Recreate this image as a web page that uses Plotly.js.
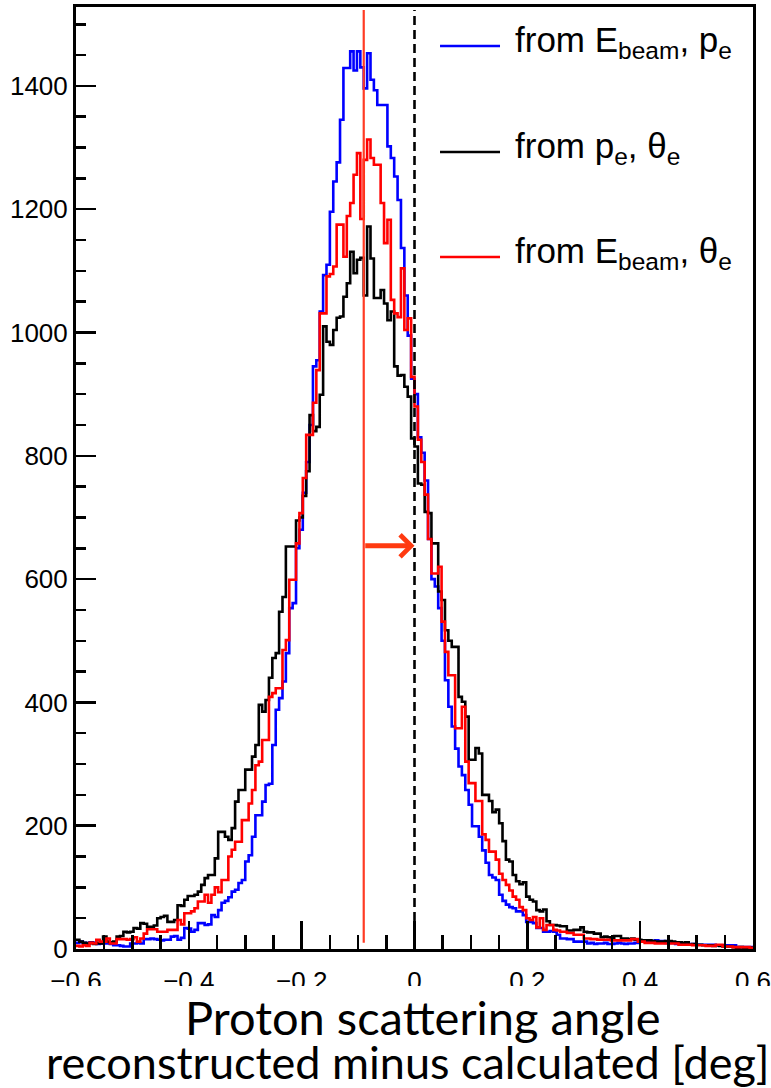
<!DOCTYPE html>
<html><head><meta charset="utf-8">
<script src="https://cdn.plot.ly/plotly-3.0.1.min.js"></script>
<style>html,body{margin:0;padding:0;background:#fff}#chart{width:771px;height:1088px}</style>
</head><body><div id="chart"></div><script>
// histogram binning: 200 bins from -0.6 to 0.6
const BIN_START = -0.6, BIN_WIDTH = 0.006, N_BINS = 200;

// from E_beam, p_e (blue)
const countsEbeamPe = [
10,12,10,9,11,10,8,9,9,9, 8,6,6,5,4,4,9,9,10,9,
16,16,17,16,15,14,15,15,20,21, 15,18,34,33,28,31,42,42,39,40,
55,52,63,75,78,84,93,96,107,112, 142,152,182,217,217,239,266,268,331,388,
407,434,480,553,561,650,680,740,790,850, 945,955,1034,1093,1110,1196,1245,1276,1345,1429,
1429,1456,1425,1456,1430,1396,1453,1410,1393,1369, 1369,1369,1302,1283,1253,1215,1137,1060,995,925,
900,830,805,760,665,600,588,553,500,436, 393,361,325,296,282,258,234,199,199,182,
160,140,120,116,112,88,78,72,68,66, 61,61,55,44,44,42,34,34,28,28,
29,28,23,17,17,16,16,12,12,12, 12,9,10,8,9,9,10,8,8,9,
10,9,8,9,9,10,13,13,12,13, 13,14,13,13,10,10,10,8,8,8,
8,8,8,7,7,7,7,7,7,6, 6,6,6,6,6,3,3,3,3,3
];

// from p_e, theta_e (black)
const countsPeThetae = [
15,12,10,9,10,8,10,9,20,12, 11,12,20,21,28,27,28,34,33,42,
41,36,36,38,50,52,54,44,44,47, 71,70,80,86,86,88,93,104,115,120,
120,147,190,190,182,177,196,239,258,258, 291,291,312,331,396,385,404,440,472,480,
547,571,653,653,653,695,700,735,775,866, 840,847,899,1010,985,980,1004,1024,1026,1058,
1080,1131,1096,1118,1121,1060,1172,1120,1056,1056, 1069,1047,1020,1034,945,930,931,912,896,828,
815,755,753,709,707,658,658,580,566,517, 500,490,490,409,401,377,307,307,326,317,
250,250,240,222,226,204,175,145,142,120, 110,105,108,85,80,77,63,61,64,45,
39,39,38,37,37,30,30,31,31,35, 28,27,27,25,25,19,20,19,18,21,
21,17,17,16,17,15,15,14,14,14, 13,12,12,12,13,13,12,11,11,10,
11,7,8,7,7,6,6,6,5,6, 5,4,4,4,3,2,3,2,2,2
];

// from E_beam, theta_e (red)
const countsEbeamThetae = [
5,4,6,5,10,9,15,12,12,17, 9,9,16,16,16,15,16,19,12,17,
25,32,32,32,28,28,28,31,31,31, 47,40,58,58,61,66,77,77,88,75,
88,100,92,112,112,150,161,174,174,209, 209,236,258,298,304,339,339,409,415,423,
423,485,501,599,599,658,707,764,834,834, 886,939,1031,1031,1091,1095,1107,1175,1175,1123,
1189,1210,1256,1291,1184,1280,1313,1283,1272,1272, 1210,1145,1183,1053,1031,1025,1104,1004,1023,928,
880,826,790,737,665,609,609,620,531,482, 444,444,358,358,393,304,269,269,240,240,
186,177,158,158,145,122,112,104,95,85, 80,68,63,50,47,52,35,50,31,39,
39,31,30,28,28,26,26,23,23,23, 17,17,16,16,15,15,15,15,14,14,
14,14,14,14,16,16,12,12,10,10, 10,9,9,9,9,9,9,9,7,7,
7,7,6,6,6,6,5,5,5,7, 7,4,4,4,3,3,3,3,3,2
];

const seriesNames = ['from E<sub>beam</sub>, p<sub>e</sub>', 'from p<sub>e</sub>, θ<sub>e</sub>', 'from E<sub>beam</sub>, θ<sub>e</sub>'];
const seriesColors = ['#0000ff', '#000000', '#ff0000'];
const xTickVals = [-0.6, -0.4, -0.2, 0, 0.2, 0.4, 0.6];
const xTickText = ['\u22120.6', '\u22120.4', '\u22120.2', '0', '0.2', '0.4', '0.6'];
const yTickVals = [0, 200, 400, 600, 800, 1000, 1200, 1400];
const yTickText = ['0', '200', '400', '600', '800', '1000', '1200', '1400'];
const meanShift = -0.09;   // red vertical line
const arrowLevel = 654;    // y of the red arrow
const titleLines = ['Proton scattering angle', 'reconstructed minus calculated [deg]'];

const edges = [];
for (let i = 0; i <= N_BINS; i++) edges.push(Math.round((BIN_START + i * BIN_WIDTH) * 1e6) / 1e6);

function stepTrace(counts, name, color) {
  return {
    type: 'scatter', mode: 'lines', name: name,
    x: edges, y: counts.concat([counts[counts.length - 1]]),
    line: {shape: 'hv', color: color, width: 2.6},
    showlegend: false, hoverinfo: 'skip'
  };
}

const traces = [
  stepTrace(countsEbeamPe, seriesNames[0], seriesColors[0]),
  stepTrace(countsPeThetae, seriesNames[1], seriesColors[1]),
  stepTrace(countsEbeamThetae, seriesNames[2], seriesColors[2])
];

const tickFont = {family: 'Liberation Sans, Arial, sans-serif', size: 26, color: '#000'};
const legendRows = [0.9586, 0.8461, 0.7346];

const shapes = [
  {type: 'line', xref: 'x', yref: 'y', x0: meanShift, x1: meanShift, y0: 10, y1: 1523,
   line: {color: '#ff3b24', width: 2.2}},
  {type: 'line', xref: 'x', yref: 'y', x0: 0, x1: 0, y0: 0, y1: 1523,
   line: {color: '#000', width: 2.6, dash: '9px,5px'}},
  {type: 'rect', xref: 'paper', yref: 'paper', x0: -0.12, x1: 1.03, y0: -0.1476, y1: -0.0393,
   fillcolor: '#fff', line: {width: 0}, layer: 'above'}
];
legendRows.forEach((yy, k) => shapes.push({
  type: 'line', xref: 'paper', yref: 'paper', x0: 0.5377, x1: 0.6263, y0: yy, y1: yy,
  line: {color: seriesColors[k], width: 2.5}
}));

const annotations = [];
legendRows.forEach((yy, k) => annotations.push({
  xref: 'paper', yref: 'paper', x: 0.6455, y: yy + 0.004, xanchor: 'left', yanchor: 'middle',
  text: seriesNames[k], showarrow: false,
  font: {family: 'Liberation Sans, Arial, sans-serif', size: 35, color: '#000'}
}));
annotations.push({
  xref: 'x', yref: 'y', x: 0, y: arrowLevel, axref: 'x', ayref: 'y', ax: meanShift, ay: arrowLevel,
  text: '', showarrow: true, arrowhead: 4, arrowsize: 0.85, arrowwidth: 5, arrowcolor: '#ff3a10',
  standoff: 0, startstandoff: 0
});
annotations.push({
  xref: 'paper', yref: 'paper', x: 0.5111, y: -0.0725, xanchor: 'center', yanchor: 'middle',
  text: titleLines[0], showarrow: false,
  font: {family: 'Lato, sans-serif', size: 47, color: '#000'}
});
annotations.push({
  xref: 'paper', yref: 'paper', x: 0.4904, y: -0.1195, xanchor: 'center', yanchor: 'middle',
  text: titleLines[1], showarrow: false,
  font: {family: 'Lato, sans-serif', size: 45, color: '#000'}
});

const layout = {
  width: 771, height: 1088,
  margin: {l: 76, r: 18, t: 7, b: 139},
  paper_bgcolor: '#fff', plot_bgcolor: '#fff',
  showlegend: false,
  xaxis: {
    range: [-0.6, 0.6], tickmode: 'array', tickvals: xTickVals, ticktext: xTickText,
    ticks: 'inside', ticklen: 28, tickwidth: 2.5, tickcolor: '#000',
    showline: true, mirror: true, linewidth: 3, linecolor: '#000',
    showgrid: false, zeroline: false, tickfont: tickFont,
    ticklabeloverflow: 'allow', ticklabelstandoff: 7,
    minor: {tickmode: 'linear', tick0: 0, dtick: 0.05, ticks: 'inside', ticklen: 14, tickwidth: 2.5, tickcolor: '#000', showgrid: false}
  },
  yaxis: {
    range: [0, 1528], tickmode: 'array', tickvals: yTickVals, ticktext: yTickText,
    ticks: 'inside', ticklen: 20, tickwidth: 2.5, tickcolor: '#000',
    showline: true, mirror: true, linewidth: 3, linecolor: '#000',
    showgrid: false, zeroline: false, tickfont: tickFont,
    minor: {tickmode: 'linear', tick0: 0, dtick: 50, ticks: 'inside', ticklen: 10, tickwidth: 2.5, tickcolor: '#000', showgrid: false}
  },
  shapes: shapes,
  annotations: annotations
};

Plotly.newPlot('chart', traces, layout, {staticPlot: true, displayModeBar: false});
</script></body></html>
